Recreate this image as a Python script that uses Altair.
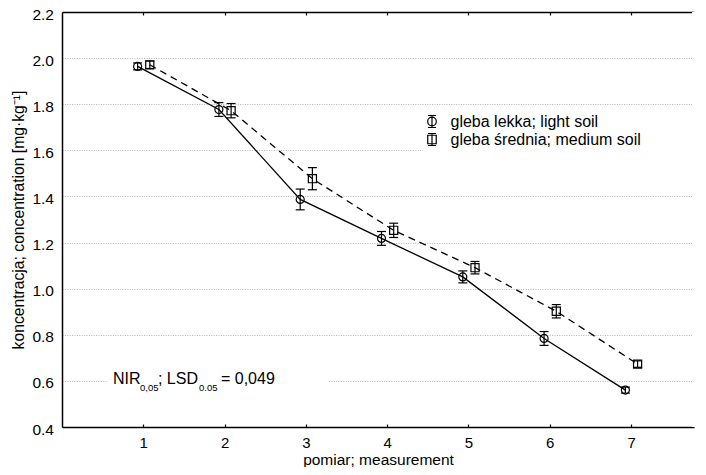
import altair as alt
import pandas as pd

# ---- data ----
measurement = [1, 2, 3, 4, 5, 6, 7]
light_soil = [1.964, 1.777, 1.387, 1.218, 1.051, 0.784, 0.560]
light_err = [0.015, 0.030, 0.045, 0.030, 0.026, 0.030, 0.013]
medium_soil = [1.971, 1.772, 1.477, 1.253, 1.091, 0.902, 0.673]
medium_err = [0.016, 0.031, 0.048, 0.031, 0.027, 0.029, 0.014]
series_names = ["gleba lekka; light soil", "gleba średnia; medium soil"]
x_ticks = [1, 2, 3, 4, 5, 6, 7]
y_ticks = [0.4, 0.6, 0.8, 1.0, 1.2, 1.4, 1.6, 1.8, 2.0, 2.2]
y_title = "koncentracja; concentration [mg·kg⁻¹]"
x_title = "pomiar; measurement"
nir_pieces = ["NIR", "0,05", "; LSD", "0.05", "= 0,049"]

FONT = "Liberation Sans"
X_MAX = 7.774
OFFSETS = [-0.07, 0.08]
W, H = 632, 415

rows = []
for name, vals, errs, off in zip(series_names, [light_soil, medium_soil],
                                 [light_err, medium_err], OFFSETS):
    for m, v, e in zip(measurement, vals, errs):
        rows.append(dict(series=name, m=m, xp=m + off, y=v, lo=v - e, hi=v + e))
df = pd.DataFrame(rows)

# white boxes behind the annotation text and the legend (hide the grid there)
bg = pd.DataFrame({"x1": [0.553, 4.44], "x2": [3.27, X_MAX],
                   "y1": [0.587, 1.587], "y2": [0.613, 1.613]})
ann = pd.DataFrame({"x": [0.627], "y": [0.6]})

xs = alt.Scale(domain=[0, X_MAX], nice=False, zero=False)
ys = alt.Scale(domain=[0.4, 2.2], nice=False, zero=False)

yaxis = alt.Axis(orient="left", values=y_ticks, format=".1f", domain=True,
                 domainColor="black", domainWidth=1.5, ticks=False, tickSize=0,
                 labelPadding=8.5, labelFontSize=15.5, labelColor="black",
                 labelOffset=2, grid=True, gridColor="#b4b4b4",
                 gridDash=[1, 1.4], gridWidth=1, title=y_title,
                 titleFontSize=15.7, titleFontWeight="normal",
                 titleColor="black", titlePadding=5, zindex=0)

ax_bottom_dom = alt.Axis(orient="bottom", domain=True, domainColor="black",
                         domainWidth=1.5, ticks=False, labels=False, grid=False,
                         title=None, zindex=0)
ax_bottom_ticks = alt.Axis(orient="bottom", offset=-3, domain=False, ticks=True,
                           tickSize=3, tickColor="black", tickWidth=1.2,
                           values=x_ticks, format="d", labelFontSize=15,
                           labelColor="black", labelPadding=8, grid=False,
                           title=x_title, titleFontSize=15.5,
                           titleFontWeight="normal", titleColor="black",
                           titlePadding=2, zindex=0)
ax_top_dom = alt.Axis(orient="top", domain=True, domainColor="black",
                      domainWidth=1.5, ticks=False, labels=False, grid=False,
                      title=None, zindex=0)
ax_top_ticks = alt.Axis(orient="top", offset=-3, domain=False, ticks=True,
                        tickSize=3, tickColor="black", tickWidth=1.2,
                        values=x_ticks, labels=False, grid=False, title=None,
                        zindex=0)

light_f = alt.datum.series == series_names[0]
medium_f = alt.datum.series == series_names[1]

rect = alt.Chart(bg).mark_rect(color="white").encode(
    x=alt.X("x1:Q", scale=xs, axis=ax_bottom_dom), x2="x2:Q",
    y=alt.Y("y1:Q", scale=ys, axis=yaxis), y2="y2:Q")

base = alt.Chart(df)

line_light = base.transform_filter(light_f).mark_line(
    color="black", strokeWidth=1.3).encode(
    x=alt.X("xp:Q", scale=xs, axis=ax_bottom_ticks),
    y=alt.Y("y:Q", scale=ys, axis=yaxis))

line_medium = base.transform_filter(medium_f).mark_line(
    color="black", strokeWidth=1.3, strokeDash=[7, 5]).encode(
    x=alt.X("xp:Q", scale=xs, axis=ax_top_dom),
    y=alt.Y("y:Q", scale=ys, axis=yaxis))

err = base.mark_rule(color="black", strokeWidth=1.2).encode(
    x=alt.X("xp:Q", scale=xs, axis=ax_top_ticks),
    y=alt.Y("lo:Q", scale=ys, axis=yaxis), y2="hi:Q")

caps = base.transform_fold(["lo", "hi"], as_=["k", "v"]).mark_tick(
    color="black", orient="horizontal", size=9, thickness=1.2, opacity=1).encode(
    x=alt.X("xp:Q", scale=xs, axis=None),
    y=alt.Y("v:Q", scale=ys, axis=yaxis))

pts_light = base.transform_filter(light_f).mark_point(
    shape="circle", size=64, filled=False, color="black", strokeWidth=1.2,
    opacity=1).encode(
    x=alt.X("xp:Q", scale=xs, axis=None),
    y=alt.Y("y:Q", scale=ys, axis=yaxis))

pts_medium = base.transform_filter(medium_f).mark_point(
    shape="square", size=66, filled=False, color="black", strokeWidth=1.2,
    opacity=1).encode(
    x=alt.X("xp:Q", scale=xs, axis=None),
    y=alt.Y("y:Q", scale=ys, axis=yaxis))

path_circle = ("M-0.506,0A0.506,0.506,0,1,1,0.506,0A0.506,0.506,0,1,1,-0.506,0Z"
               "M0,-0.706L0,0.706M-0.47,-0.706L0.47,-0.706M-0.47,0.706L0.47,0.706")
path_square = ("M-0.5,-0.5L0.5,-0.5L0.5,0.5L-0.5,0.5Z"
               "M0,-0.706L0,0.706M-0.47,-0.706L0.47,-0.706M-0.47,0.706L0.47,0.706")

legend_layer = base.mark_point(opacity=0, filled=False, color="black").encode(
    x=alt.X("xp:Q", scale=xs, axis=None),
    y=alt.Y("y:Q", scale=ys, axis=yaxis),
    shape=alt.Shape("series:N",
                    scale=alt.Scale(domain=series_names,
                                    range=[path_circle, path_square]),
                    legend=alt.Legend(title=None, orient="none", legendX=360.5,
                                      legendY=100, symbolSize=289,
                                      symbolStrokeColor="black",
                                      symbolFillColor="transparent",
                                      symbolStrokeWidth=1.2, symbolOpacity=1,
                                      labelFontSize=16, labelColor="black",
                                      labelLimit=400, labelOffset=9,
                                      rowPadding=0, padding=0)))

texts = []
sizes = [16, 9.5, 16, 9.5, 16]
dxs = [0, 27, 45, 86, 108]
dys = [3, 10, 3, 10, 3]
for t, fs, dx, dy in zip(nir_pieces, sizes, dxs, dys):
    texts.append(alt.Chart(ann).mark_text(
        text=t, fontSize=fs, dx=dx, dy=dy, align="left", baseline="alphabetic",
        color="black").encode(
        x=alt.X("x:Q", scale=xs, axis=None),
        y=alt.Y("y:Q", scale=ys, axis=yaxis)))

# the reference is cut at the right: no frame edge visible there
edge_mask = alt.Chart(ann).mark_rule(color="white", strokeWidth=4).encode(
    x=alt.value(W))

chart = alt.layer(rect, line_light, line_medium, err, caps, pts_light,
                  pts_medium, legend_layer, *texts, edge_mask).resolve_axis(
    x="independent").properties(
    width=W, height=H,
    padding={"left": 54, "top": 4, "right": 4, "bottom": 40},
    autosize=alt.AutoSizeParams(type="none")).configure_view(
    strokeWidth=0, stroke="transparent").configure_axis(
    labelFont=FONT, titleFont=FONT).configure_legend(
    labelFont=FONT).configure_text(font=FONT)

chart.save("out.html", embed_options={"renderer": "svg", "actions": False})
